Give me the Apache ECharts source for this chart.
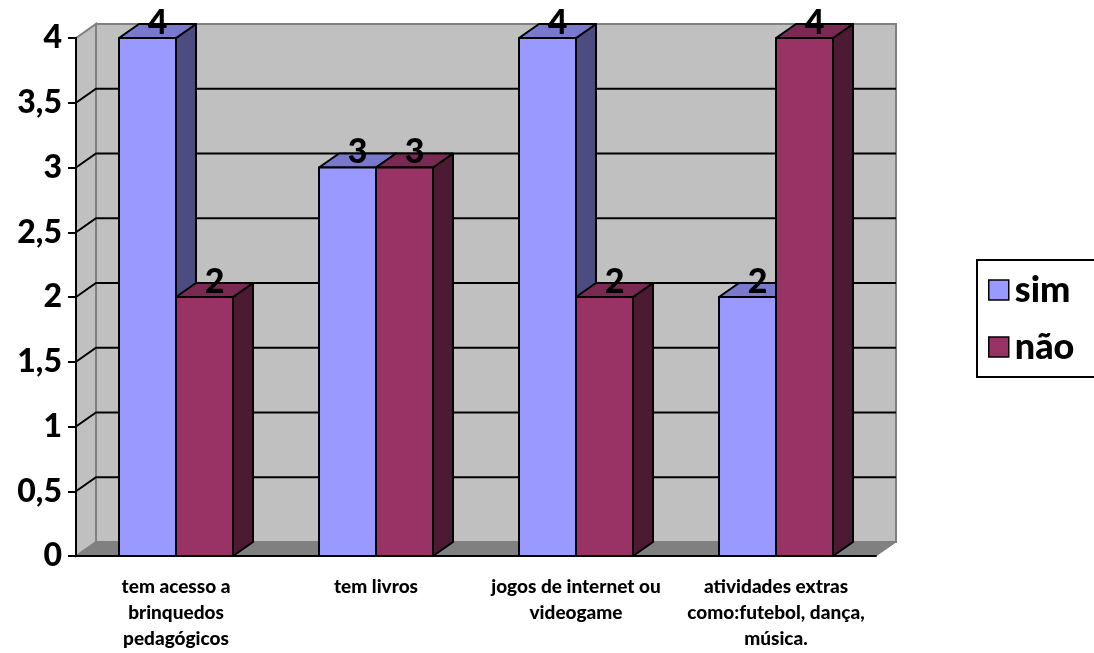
<!DOCTYPE html>
<html>
<head>
<meta charset="utf-8">
<style>
  html, body { margin: 0; padding: 0; background: #fff; }
  #chart { width: 1094px; height: 653px; }
</style>
<script src="https://cdn.jsdelivr.net/npm/echarts@6/dist/echarts.min.js"></script>
</head>
<body>
<div id="chart"></div>
<script>
// data
const categories = [
  "tem acesso a\nbrinquedos\npedagógicos",
  "tem livros",
  "jogos de internet ou\nvideogame",
  "atividades extras\ncomo:futebol, dança,\nmúsica."
];
const simValues = [4, 3, 4, 2];
const naoValues = [2, 3, 2, 4];
const yTicks = [0, 0.5, 1, 1.5, 2, 2.5, 3, 3.5, 4];

// 3d look: depth offset of the back wall
const DX = 20;
const DY = -14;

const palette = {
  sim: { front: "#9999FF", top: "#7878CC", side: "#4C4C80" },
  nao: { front: "#993366", top: "#7A2952", side: "#4D1A33" },
};

const chart = echarts.init(document.getElementById("chart"));

function wallRender(params, api) {
  const cs = params.coordSys;
  const xl = cs.x, xr = cs.x + cs.width;
  const y0 = api.coord([0, yTicks[0]])[1];
  const yTop = api.coord([0, yTicks[yTicks.length - 1]])[1];
  const children = [
    // back wall
    { type: "polygon", shape: { points: [[xl + DX, yTop + DY], [xr + DX, yTop + DY], [xr + DX, y0 + DY], [xl + DX, y0 + DY]] },
      style: { fill: "#C0C0C0", stroke: "#808080", lineWidth: 2 } },
    // left wall
    { type: "polygon", shape: { points: [[xl, yTop], [xl + DX, yTop + DY], [xl + DX, y0 + DY], [xl, y0]] },
      style: { fill: "#C0C0C0", stroke: "#808080", lineWidth: 2 } },
    // floor
    { type: "polygon", shape: { points: [[xl, y0], [xl + DX, y0 + DY], [xr + DX, y0 + DY], [xr, y0]] },
      style: { fill: "#808080", stroke: "#808080", lineWidth: 1 } },
  ];
  yTicks.slice(1, -1).forEach(function (v) {
    const y = api.coord([0, v])[1];
    children.push({ type: "polyline", shape: { points: [[xl, y], [xl + DX, y + DY], [xr + DX, y + DY]] },
      style: { stroke: "#000", lineWidth: 2, fill: null } });
  });
  return { type: "group", children: children };
}

function barRender(side, colors) {
  return function (params, api) {
    const cat = api.value(0);
    const val = api.value(1);
    const top = api.coord([cat, val]);
    const base = api.coord([cat, 0]);
    const bw = api.size([1, 0])[0] * 0.285;
    const x0 = side === 0 ? top[0] - bw : top[0];
    const x1 = x0 + bw;
    const y0 = top[1];
    const yb = base[1];
    const line = { stroke: "#000", lineWidth: 2, lineJoin: "round" };
    return {
      type: "group",
      children: [
        { type: "polygon", shape: { points: [[x1, y0], [x1 + DX, y0 + DY], [x1 + DX, yb + DY], [x1, yb]] },
          style: Object.assign({ fill: colors.side }, line) },
        { type: "polygon", shape: { points: [[x0, y0], [x0 + DX, y0 + DY], [x1 + DX, y0 + DY], [x1, y0]] },
          style: Object.assign({ fill: colors.top }, line) },
        { type: "rect", shape: { x: x0, y: y0, width: bw, height: yb - y0 },
          style: Object.assign({ fill: colors.front }, line) },
        { type: "text", z2: 10,
          style: { text: String(val), x: (x0 + x1) / 2 + DX / 2, y: y0 - 15, align: "center", verticalAlign: "middle",
            fontFamily: "Lato", fontWeight: 900, fontSize: 34, fill: "#000" } },
      ],
    };
  };
}

chart.setOption({
  animation: false,
  grid: { left: 76, right: 218, top: 38, bottom: 97, containLabel: false },
  legend: {
    orient: "vertical",
    left: 977,
    top: 260,
    icon: "rect",
    itemWidth: 20,
    itemHeight: 20,
    itemGap: 17,
    padding: [10, 60, 10, 11],
    borderColor: "#000",
    borderWidth: 2,
    backgroundColor: "#fff",
    itemStyle: { borderColor: "#000", borderWidth: 1.5 },
    textStyle: { fontFamily: "Lato", fontWeight: 900, fontSize: 36, lineHeight: 40, color: "#000", padding: [0, 0, 0, 1] },
    data: ["sim", "não"],
  },
  xAxis: {
    type: "category",
    data: categories,
    z: 10,
    axisLine: { lineStyle: { color: "#000", width: 2 } },
    axisTick: { length: 8, lineStyle: { color: "#000", width: 2 } },
    axisLabel: { interval: 0, margin: 18, fontFamily: "Lato", fontWeight: 900, fontSize: 19, lineHeight: 26, color: "#000" },
    splitLine: { show: false },
  },
  yAxis: {
    type: "value",
    min: 0,
    max: 4,
    interval: 0.5,
    z: 10,
    axisLine: { show: true, lineStyle: { color: "#000", width: 2 } },
    axisTick: { show: true, length: 8, lineStyle: { color: "#000", width: 2 } },
    axisLabel: { margin: 14, fontFamily: "Lato", fontWeight: 900, fontSize: 32, color: "#000",
      formatter: function (v) { return String(v).replace(".", ","); } },
    splitLine: { show: false },
  },
  series: [
    { name: "walls", type: "custom", silent: true, z: 1, clip: false, renderItem: wallRender, data: [[0, 0]] },
    { name: "sim", type: "custom", z: 3, clip: false, itemStyle: { color: palette.sim.front },
      renderItem: barRender(0, palette.sim), data: simValues.map(function (v, i) { return [i, v]; }) },
    { name: "não", type: "custom", z: 4, clip: false, itemStyle: { color: palette.nao.front },
      renderItem: barRender(1, palette.nao), data: naoValues.map(function (v, i) { return [i, v]; }) },
  ],
});
</script>
</body>
</html>
